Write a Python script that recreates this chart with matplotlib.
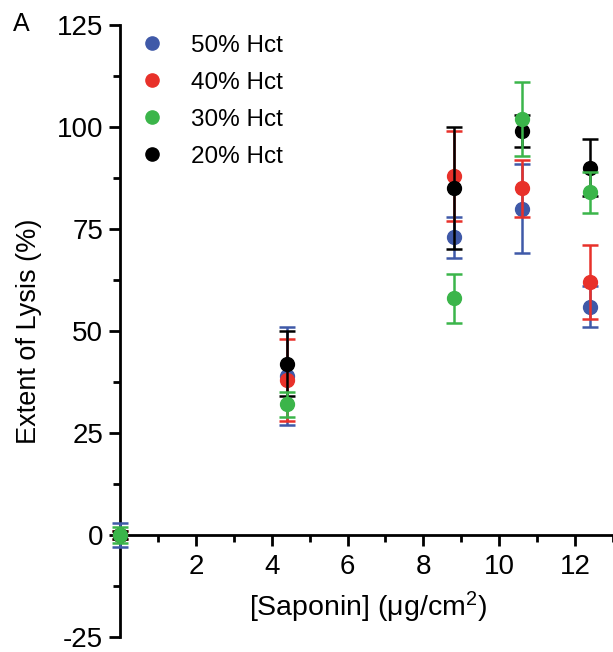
import matplotlib
matplotlib.use("Agg")
import matplotlib.pyplot as plt
from matplotlib.lines import Line2D
from matplotlib.ticker import MultipleLocator

plt.rcParams['font.family'] = ['Liberation Sans', 'DejaVu Sans']
plt.rcParams['axes.unicode_minus'] = False
plt.rcParams['mathtext.fontset'] = 'custom'
plt.rcParams['mathtext.rm'] = 'Liberation Sans'
plt.rcParams['mathtext.it'] = 'Liberation Sans'

saponin = [0, 4.4, 8.8, 10.6, 12.4]
series = ["50% Hct", "40% Hct", "30% Hct", "20% Hct"]
colors = ["#3F59A8", "#E8312A", "#3BB54A", "#000000"]
means = {
    "50% Hct": [0, 39, 73, 80, 56],
    "40% Hct": [0, 38, 88, 85, 62],
    "30% Hct": [0, 32, 58, 102, 84],
    "20% Hct": [0, 42, 85, 99, 90],
}
errors = {
    "50% Hct": [3, 12, 5, 11, 5],
    "40% Hct": [1, 10, 11, 7, 9],
    "30% Hct": [2, 3, 6, 9, 5],
    "20% Hct": [1, 8, 15, 4, 7],
}
draw_layer = {"50% Hct": 3, "40% Hct": 4, "20% Hct": 5, "30% Hct": 6}

fig = plt.figure(figsize=(6.13, 6.52), dpi=100)
ax = fig.add_axes([120/613, 15/652, 493/613, 612/652])

for name, c in zip(series, colors):
    ax.errorbar(saponin, means[name], yerr=errors[name], fmt='o', color=c,
                ms=10, elinewidth=1.8, capsize=5.5, capthick=1.8, clip_on=False,
                zorder=draw_layer[name])

ax.set_xlim(0, 13)
ax.set_ylim(-25, 125)
for s in ['top', 'right']:
    ax.spines[s].set_visible(False)
ax.spines['bottom'].set_position(('data', 0))
ax.spines['left'].set_linewidth(2)
ax.spines['bottom'].set_linewidth(2)

ax.xaxis.set_major_locator(MultipleLocator(2))
ax.xaxis.set_minor_locator(MultipleLocator(1))
ax.yaxis.set_major_locator(MultipleLocator(25))
ax.yaxis.set_minor_locator(MultipleLocator(12.5))
ax.set_xticks([2, 4, 6, 8, 10, 12])
ax.tick_params(axis='both', which='major', length=8, width=2, labelsize=20, pad=4)
ax.tick_params(axis='both', which='minor', length=5, width=2)
ax.tick_params(axis='x', which='major', pad=6)

ax.set_xlabel("[Saponin] (μg/cm$^2$)", fontsize=20.5)
ax.xaxis.set_label_coords(0.502, 0.077)
ax.xaxis.label.set_va('top')
ax.set_ylabel("Extent of Lysis (%)", fontsize=19.5)
ax.yaxis.set_label_coords(-0.158, 0.5)

handles = [Line2D([], [], marker='o', ls='none', color=c, ms=9.5) for c in colors]
ax.legend(handles, series, loc='upper left', bbox_to_anchor=(0.005, 1.012),
          frameon=False, fontsize=17.5, handlelength=1.0, handletextpad=1.1,
          labelspacing=0.62, borderpad=0.2)

fig.text(13/613, 1 - 24/652, "A", fontsize=18, va='center', ha='left')

fig.savefig("out.png", dpi=100)
